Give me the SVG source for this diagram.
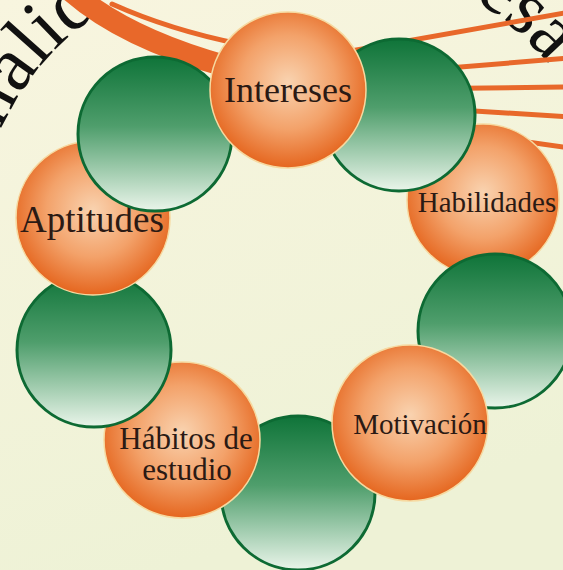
<svg xmlns="http://www.w3.org/2000/svg" width="563" height="570" viewBox="0 0 563 570">
<defs>
<linearGradient id="bg" x1="0" y1="0" x2="0.3" y2="1">
<stop offset="0" stop-color="#f8f5df"/>
<stop offset="1" stop-color="#eef2d6"/>
</linearGradient>
<radialGradient id="og" cx="0.5" cy="0.45" r="0.55">
<stop offset="0" stop-color="#f9d3b0"/>
<stop offset="0.55" stop-color="#f3a26a"/>
<stop offset="1" stop-color="#e5661f"/>
</radialGradient>
<linearGradient id="gg" x1="0" y1="0" x2="0" y2="1">
<stop offset="0" stop-color="#0f7439"/>
<stop offset="0.45" stop-color="#4f9e6c"/>
<stop offset="1" stop-color="#eaf5ea"/>
</linearGradient>
<path id="arcL" d="M -24 245 A 280 280 0 0 1 352 -18"/>
<path id="arcR" d="M 207.7 -27.4 A 308 308 0 0 1 602.4 367.3"/>
<style>
.o{fill:url(#og);stroke:#f6d9a0;stroke-width:1.5}
.g{fill:url(#gg);stroke:#0d6a33;stroke-width:3}
.lbl{font-family:"Liberation Serif","Times New Roman",serif;fill:#2b1a14;text-anchor:middle}
.big{font-family:"Liberation Serif","Times New Roman",serif;fill:#111;font-size:78px}
.ray{fill:none;stroke:#e8682a;stroke-linecap:round}
</style>
</defs>
<rect width="563" height="570" fill="url(#bg)"/>
<g id="title">
<text class="big"><textPath href="#arcL" startOffset="54">Finalid</textPath></text>
<text class="big"><textPath href="#arcR" startOffset="276">esa</textPath></text>
</g>
<g id="connectors">
<path class="ray" stroke-width="22" d="M 72 -8 Q 125 38 225 66"/>
<path class="ray" stroke-width="5" d="M 112 4 Q 170 30 240 44"/>
<path class="ray" stroke-width="5" d="M 300 60 L 570 12"/>
<path class="ray" stroke-width="5" d="M 300 80 L 570 58"/>
<path class="ray" stroke-width="5" d="M 300 90 L 570 87"/>
<path class="ray" stroke-width="5" d="M 300 100 L 570 117"/>
<path class="ray" stroke-width="5" d="M 300 110 L 570 148"/>
</g>
<g id="green-bottom"><circle class="g" cx="298" cy="493" r="77"/></g>
<g id="habitos"><circle class="o" cx="182" cy="440" r="78"/>
<text class="lbl" font-size="31"><tspan x="186" y="449">Hábitos de</tspan><tspan x="187" y="480">estudio</tspan></text></g>
<g id="green-left"><circle class="g" cx="94" cy="350" r="77"/></g>
<g id="aptitudes"><circle class="o" cx="93" cy="218" r="77"/>
<text class="lbl" x="92" y="232" font-size="37">Aptitudes</text></g>
<g id="green-topleft"><circle class="g" cx="155" cy="134" r="77"/></g>
<g id="habilidades"><circle class="o" cx="483" cy="200" r="76"/>
<text class="lbl" x="487" y="212" font-size="29">Habilidades</text></g>
<g id="green-topright"><circle class="g" cx="399" cy="115" r="76"/></g>
<g id="green-right"><circle class="g" cx="495" cy="331" r="77"/></g>
<g id="motivacion"><circle class="o" cx="410" cy="423" r="78"/>
<text class="lbl" x="420" y="434" font-size="29">Motivación</text></g>
<g id="intereses"><circle class="o" cx="288" cy="90" r="78"/>
<text class="lbl" x="288" y="102" font-size="36">Intereses</text></g>
</svg>
